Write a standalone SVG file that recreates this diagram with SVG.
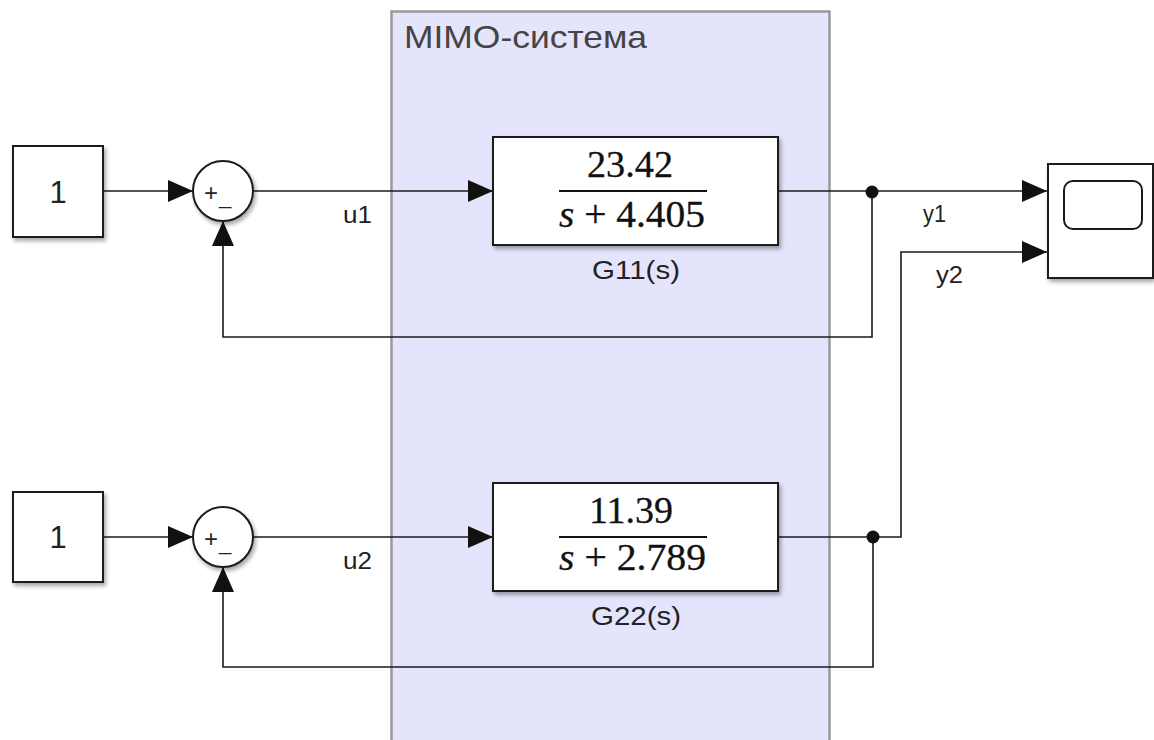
<svg xmlns="http://www.w3.org/2000/svg" width="1154" height="740" viewBox="0 0 1154 740">
<style>
.blk{fill:#fff;stroke:#1a1a1a;stroke-width:2;filter:url(#sh)}
.ln{fill:none;stroke:#1a1a1a;stroke-width:1.6}
.lbl{font-family:"Liberation Sans",Arial,sans-serif;fill:#222}
.num{font-family:"Liberation Serif","Times New Roman",serif;fill:#111;font-size:37px;stroke:#111;stroke-width:0.3}
</style>
<defs>
<filter id="sh" x="-10%" y="-10%" width="130%" height="130%">
<feGaussianBlur in="SourceAlpha" stdDeviation="2"/>
<feOffset dx="2" dy="3" result="b"/>
<feComponentTransfer><feFuncA type="linear" slope="0.35"/></feComponentTransfer>
<feMerge><feMergeNode/><feMergeNode in="SourceGraphic"/></feMerge>
</filter>
<marker id="ar" markerUnits="userSpaceOnUse" markerWidth="26" markerHeight="24" viewBox="0 0 26 24" refX="25" refY="12" orient="auto">
<path d="M0,1 L25,12 L0,23 z" fill="#111"/>
</marker>
</defs>
<rect width="1154" height="740" fill="#fff"/>
<g id="mimo">
<rect x="391.5" y="11.5" width="438" height="740" fill="#e4e4fc" stroke="#999" stroke-width="2.5"/>
<text class="lbl" x="404" y="48" font-size="32" textLength="243" lengthAdjust="spacingAndGlyphs" style="fill:#444">MIMO-система</text>
</g>
<g id="connectors">
<path class="ln" d="M103,191 H193" marker-end="url(#ar)"/>
<path class="ln" d="M253,191 H493" marker-end="url(#ar)"/>
<path class="ln" d="M778,191 H1047" marker-end="url(#ar)"/>
<path class="ln" d="M872,191 V337 H223 V221" marker-end="url(#ar)"/>
<path class="ln" d="M103,537 H193" marker-end="url(#ar)"/>
<path class="ln" d="M253,537 H493" marker-end="url(#ar)"/>
<path class="ln" d="M778,537 H901 V252 H1047" marker-end="url(#ar)"/>
<path class="ln" d="M873,537 V667 H223 V567" marker-end="url(#ar)"/>
<circle cx="872" cy="192" r="6.5" fill="#111"/>
<circle cx="873" cy="537" r="6.5" fill="#111"/>
<text class="lbl" x="343" y="223" font-size="23" textLength="29" lengthAdjust="spacingAndGlyphs">u1</text>
<text class="lbl" x="343" y="569" font-size="23" textLength="29" lengthAdjust="spacingAndGlyphs">u2</text>
<text class="lbl" x="923" y="222" font-size="23" textLength="23" lengthAdjust="spacingAndGlyphs">y1</text>
<text class="lbl" x="936" y="283" font-size="23" textLength="27" lengthAdjust="spacingAndGlyphs">y2</text>
</g>
<g id="const1">
<rect class="blk" x="13" y="146" width="90" height="91"/>
<text class="lbl" x="58" y="203" font-size="31" text-anchor="middle">1</text>
</g>
<g id="const2">
<rect class="blk" x="13" y="492" width="90" height="90"/>
<text class="lbl" x="58" y="548" font-size="31" text-anchor="middle">1</text>
</g>
<g id="sum1">
<circle class="blk" cx="223" cy="191" r="30"/>
<text class="lbl" x="211" y="201" font-size="24" text-anchor="middle">+</text>
<text class="lbl" x="225" y="204" font-size="22" text-anchor="middle">_</text>
</g>
<g id="sum2">
<circle class="blk" cx="223" cy="537" r="30"/>
<text class="lbl" x="211" y="547" font-size="24" text-anchor="middle">+</text>
<text class="lbl" x="225" y="550" font-size="22" text-anchor="middle">_</text>
</g>
<g id="G11">
<rect class="blk" x="493" y="137" width="285" height="108"/>
<text class="num" x="587" y="177" textLength="86" lengthAdjust="spacingAndGlyphs">23.42</text>
<line x1="559" y1="191" x2="707" y2="191" stroke="#111" stroke-width="2.2"/>
<text class="num" x="559" y="227" textLength="146" lengthAdjust="spacingAndGlyphs"><tspan font-style="italic">s</tspan> + 4.405</text>
<text class="lbl" x="592" y="279" font-size="25" textLength="88" lengthAdjust="spacingAndGlyphs">G11(s)</text>
</g>
<g id="G22">
<rect class="blk" x="493" y="483" width="285" height="108"/>
<text class="num" x="589" y="523" textLength="84" lengthAdjust="spacingAndGlyphs">11.39</text>
<line x1="559" y1="537" x2="707" y2="537" stroke="#111" stroke-width="2.2"/>
<text class="num" x="559" y="570" textLength="147" lengthAdjust="spacingAndGlyphs"><tspan font-style="italic">s</tspan> + 2.789</text>
<text class="lbl" x="591" y="625" font-size="25" textLength="90" lengthAdjust="spacingAndGlyphs">G22(s)</text>
</g>
<g id="scope">
<rect class="blk" x="1048" y="164" width="105" height="114"/>
<rect x="1064" y="181" width="78" height="48" rx="9" fill="#fff" stroke="#1a1a1a" stroke-width="2"/>
</g>
</svg>
